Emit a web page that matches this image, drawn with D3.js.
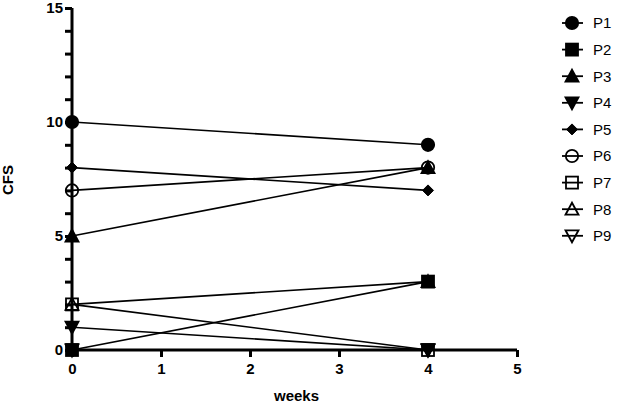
<!DOCTYPE html>
<html>
<head>
<meta charset="utf-8">
<script src="https://cdn.jsdelivr.net/npm/d3@7"></script>
<style>
  body { margin: 0; background: #fff; }
  svg { font-family: "Liberation Sans", Arial, sans-serif; }
</style>
</head>
<body>
<svg id="chart" width="617" height="404"></svg>
<script>
const weeks = [0, 4];
const patients = ["P1", "P2", "P3", "P4", "P5", "P6", "P7", "P8", "P9"];
const cfsWeek0 = [10, 0, 5, 1, 8, 7, 2, 2, 0];
const cfsWeek4 = [9, 3, 8, 0, 7, 8, 0, 3, 0];
const xTicks = [0, 1, 2, 3, 4, 5];
const yTicks = [0, 5, 10, 15];

// symbol per patient: [shape, filled]
const shapes = [
  ["circle", true], ["square", true], ["up", true], ["down", true], ["diamond", true],
  ["circle", false], ["square", false], ["up", false], ["down", false]
];

const svg = d3.select("#chart");
const x = d3.scaleLinear().domain([0, 5]).range([72, 517]);
const y = d3.scaleLinear().domain([0, 15]).range([350, 8]);

const series = patients.map((p, i) => ({
  name: p,
  shape: shapes[i],
  values: [cfsWeek0[i], cfsWeek4[i]].map((v, j) => ({ w: weeks[j], v }))
}));

function drawSymbol(g, type, filled) {
  const fill = filled ? "#000" : "none";
  let el;
  if (type === "circle") {
    el = g.append("circle").attr("r", 6.2);
  } else if (type === "square") {
    el = g.append("rect").attr("x", -6).attr("y", -6).attr("width", 12).attr("height", 12);
  } else if (type === "up") {
    el = g.append("path").attr("d", "M0,-6.5L6.5,5.5L-6.5,5.5Z");
  } else if (type === "down") {
    el = g.append("path").attr("d", "M0,6.5L6.5,-5.5L-6.5,-5.5Z");
  } else {
    el = g.append("path").attr("d", "M0,-5.5L5.5,0L0,5.5L-5.5,0Z");
  }
  el.attr("fill", fill).attr("stroke", "#000").attr("stroke-width", type === "diamond" ? 1 : 1.8);
}

// lines
const line = d3.line().x(d => x(d.w)).y(d => y(d.v));
svg.append("g").selectAll("path")
  .data(series)
  .join("path")
  .attr("d", d => line(d.values))
  .attr("fill", "none")
  .attr("stroke", "#000")
  .attr("stroke-width", 1.6);

// axes
const xAxis = svg.append("g")
  .attr("transform", `translate(0,${y(0)})`)
  .call(d3.axisBottom(x).tickValues(xTicks).tickFormat(d3.format("d")).tickSize(7).tickSizeOuter(0));
const yAxis = svg.append("g")
  .attr("transform", `translate(${x(0)},0)`)
  .call(d3.axisLeft(y).tickValues(d3.range(0, 16)).tickFormat(d => yTicks.includes(d) ? d : "").tickSize(7).tickSizeOuter(0));

[xAxis, yAxis].forEach(a => {
  a.select(".domain").attr("stroke", "#000").attr("stroke-width", 3);
  a.selectAll(".tick line").attr("stroke", "#000").attr("stroke-width", 3);
  a.selectAll(".tick text").attr("fill", "#000").style("font-size", "15px").style("font-weight", "bold");
});
xAxis.selectAll(".tick text").attr("y", 10).attr("dy", "0.9em");
yAxis.selectAll(".tick text").attr("x", -9);
xAxis.select(".domain").attr("d", `M${x(0) - 1.5},0H${x(5)}`);
yAxis.select(".domain").attr("d", `M0,${y(0) + 1.5}V${y(15)}`);

// markers
series.forEach(s => {
  s.values.forEach(d => {
    const g = svg.append("g").attr("transform", `translate(${x(d.w)},${y(d.v)})`);
    drawSymbol(g, s.shape[0], s.shape[1]);
  });
});

// axis titles
svg.append("text")
  .attr("x", x(2.5) + 2).attr("y", 401)
  .attr("text-anchor", "middle")
  .style("font-size", "15px").style("font-weight", "bold")
  .text("weeks");
svg.append("text")
  .attr("transform", "translate(13,180) rotate(-90)")
  .attr("text-anchor", "middle")
  .style("font-size", "15px").style("font-weight", "bold")
  .text("CFS");

// legend
const legend = svg.append("g").selectAll("g")
  .data(series)
  .join("g")
  .attr("transform", (d, i) => `translate(572,${23 + i * 26.6})`);
legend.append("line").attr("x1", -10).attr("x2", 11).attr("stroke", "#000").attr("stroke-width", 1.8);
legend.each(function(d) { drawSymbol(d3.select(this), d.shape[0], d.shape[1]); });
legend.append("text")
  .attr("x", 21).attr("dy", "0.36em")
  .style("font-size", "15px")
  .text(d => d.name);
</script>
</body>
</html>
